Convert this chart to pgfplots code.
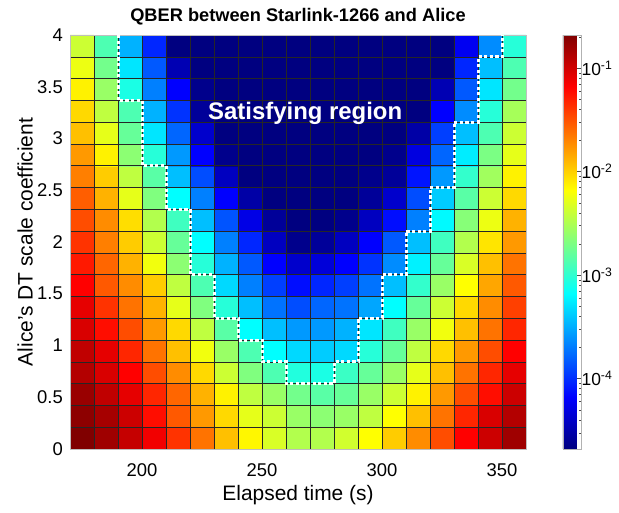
\documentclass[border=0pt]{standalone}
\usepackage{fontspec}
\setmainfont{Liberation Sans}
\usepackage{pgfplots}
\usepackage{pgfplotstable}
\pgfplotsset{compat=1.18}

% QBER, cell centres (x = elapsed time, y = DT scale)
\pgfplotstableread{
x y q
175 0.1053 2.09e-1
185 0.1053 1.58e-1
195 0.1053 1.12e-1
205 0.1053 7.41e-2
215 0.1053 4.17e-2
225 0.1053 2.34e-2
235 0.1053 1.17e-2
245 0.1053 7.08e-3
255 0.1053 4.68e-3
265 0.1053 3.31e-3
275 0.1053 3.31e-3
285 0.1053 4.37e-3
295 0.1053 6.61e-3
305 0.1053 1.05e-2
315 0.1053 1.86e-2
325 0.1053 3.31e-2
335 0.1053 6.61e-2
345 0.1053 1.05e-1
355 0.1053 1.58e-1
175 0.3158 1.86e-1
185 0.3158 1.48e-1
195 0.3158 1.05e-1
205 0.3158 5.89e-2
215 0.3158 2.95e-2
225 0.3158 1.66e-2
235 0.3158 9.33e-3
245 0.3158 5.25e-3
255 0.3158 4.17e-3
265 0.3158 2.63e-3
275 0.3158 2.34e-3
285 0.3158 2.63e-3
295 0.3158 3.72e-3
305 0.3158 6.61e-3
315 0.3158 1.17e-2
325 0.3158 2.34e-2
335 0.3158 4.68e-2
345 0.3158 9.33e-2
355 0.3158 1.32e-1
175 0.5263 1.66e-1
185 0.5263 1.17e-1
195 0.5263 8.32e-2
205 0.5263 4.68e-2
215 0.5263 2.63e-2
225 0.5263 1.32e-2
235 0.5263 7.41e-3
245 0.5263 3.72e-3
255 0.5263 2.63e-3
265 0.5263 1.86e-3
275 0.5263 1.48e-3
285 0.5263 1.66e-3
295 0.5263 2.63e-3
305 0.5263 4.17e-3
315 0.5263 7.41e-3
325 0.5263 1.66e-2
335 0.5263 3.31e-2
345 0.5263 5.89e-2
355 0.5263 1.05e-1
175 0.7368 1.32e-1
185 0.7368 9.33e-2
195 0.7368 6.61e-2
205 0.7368 3.31e-2
215 0.7368 1.86e-2
225 0.7368 9.33e-3
235 0.7368 4.17e-3
245 0.7368 2.09e-3
255 0.7368 1.32e-3
265 0.7368 8.91e-4
275 0.7368 8.32e-4
285 0.7368 1.12e-3
295 0.7368 1.66e-3
305 0.7368 2.63e-3
315 0.7368 5.25e-3
325 0.7368 1.17e-2
335 0.7368 2.34e-2
345 0.7368 4.68e-2
355 0.7368 8.32e-2
175 0.9474 1.17e-1
185 0.9474 8.32e-2
195 0.9474 4.68e-2
205 0.9474 2.34e-2
215 0.9474 1.17e-2
225 0.9474 5.89e-3
235 0.9474 2.63e-3
245 0.9474 1.32e-3
255 0.9474 6.61e-4
265 0.9474 4.68e-4
275 0.9474 4.17e-4
285 0.9474 4.68e-4
295 0.9474 9.33e-4
305 0.9474 1.66e-3
315 0.9474 3.72e-3
325 0.9474 9.33e-3
335 0.9474 1.66e-2
345 0.9474 3.31e-2
355 0.9474 6.61e-2
175 1.1579 9.33e-2
185 1.1579 5.89e-2
195 1.1579 3.31e-2
205 1.1579 1.66e-2
215 1.1579 9.33e-3
225 1.1579 3.72e-3
235 1.1579 1.48e-3
245 1.1579 6.61e-4
255 1.1579 3.72e-4
265 1.1579 2.63e-4
275 1.1579 2.63e-4
285 1.1579 3.31e-4
295 1.1579 5.25e-4
305 1.1579 1.17e-3
315 1.1579 2.63e-3
325 1.1579 5.89e-3
335 1.1579 1.17e-2
345 1.1579 2.34e-2
355 1.1579 4.68e-2
175 1.3684 8.32e-2
185 1.3684 4.17e-2
195 1.3684 2.34e-2
205 1.3684 1.32e-2
215 1.3684 5.25e-3
225 1.3684 2.09e-3
235 1.3684 9.33e-4
245 1.3684 3.72e-4
255 1.3684 1.86e-4
265 1.3684 1.32e-4
275 1.3684 1.66e-4
285 1.3684 1.86e-4
295 1.3684 2.95e-4
305 1.3684 6.61e-4
315 1.3684 1.66e-3
325 1.3684 4.17e-3
335 1.3684 9.33e-3
345 1.3684 1.86e-2
355 1.3684 3.72e-2
175 1.5789 6.61e-2
185 1.5789 2.95e-2
195 1.5789 1.86e-2
205 1.5789 1.05e-2
215 1.5789 3.72e-3
225 1.5789 1.32e-3
235 1.5789 4.68e-4
245 1.5789 2.09e-4
255 1.5789 1.17e-4
265 1.5789 7.41e-5
275 1.5789 9.33e-5
285 1.5789 1.17e-4
295 1.5789 1.86e-4
305 1.5789 3.72e-4
315 1.5789 1.05e-3
325 1.5789 2.63e-3
335 1.5789 6.61e-3
345 1.5789 1.48e-2
355 1.5789 2.95e-2
175 1.7895 5.25e-2
185 1.7895 2.63e-2
195 1.7895 1.32e-2
205 1.7895 5.89e-3
215 1.7895 2.34e-3
225 1.7895 9.33e-4
235 1.7895 3.31e-4
245 1.7895 1.48e-4
255 1.7895 6.61e-5
265 1.7895 4.17e-5
275 1.7895 4.68e-5
285 1.7895 6.61e-5
295 1.7895 1.05e-4
305 1.7895 2.34e-4
315 1.7895 5.89e-4
325 1.7895 1.66e-3
335 1.7895 4.68e-3
345 1.7895 1.17e-2
355 1.7895 2.34e-2
175 2.0000 4.17e-2
185 2.0000 2.09e-2
195 2.0000 1.05e-2
205 2.0000 4.17e-3
215 2.0000 1.66e-3
225 2.0000 6.61e-4
235 2.0000 2.09e-4
245 2.0000 9.33e-5
255 2.0000 3.72e-5
265 2.0000 2.34e-5
275 2.0000 2.63e-5
285 2.0000 3.72e-5
295 2.0000 6.61e-5
305 2.0000 1.48e-4
315 2.0000 3.72e-4
325 2.0000 1.17e-3
335 2.0000 3.31e-3
345 2.0000 8.32e-3
355 2.0000 1.66e-2
175 2.2105 3.31e-2
185 2.2105 1.86e-2
195 2.2105 8.91e-3
205 2.2105 3.31e-3
215 2.2105 1.17e-3
225 2.2105 3.72e-4
235 2.2105 1.41e-4
245 2.2105 5.25e-5
255 2.2105 2.63e-5
265 2.2105 2.09e-5
275 2.2105 2.09e-5
285 2.2105 2.34e-5
295 2.2105 3.72e-5
305 2.2105 7.41e-5
315 2.2105 2.09e-4
325 2.2105 6.31e-4
335 2.2105 2.24e-3
345 2.2105 5.62e-3
355 2.2105 1.32e-2
175 2.4211 2.82e-2
185 2.4211 1.32e-2
195 2.4211 5.25e-3
205 2.4211 2.09e-3
215 2.4211 6.61e-4
225 2.4211 2.09e-4
235 2.4211 6.61e-5
245 2.4211 2.95e-5
255 2.4211 2.09e-5
265 2.4211 2.09e-5
275 2.4211 2.09e-5
285 2.4211 2.09e-5
295 2.4211 2.63e-5
305 2.4211 4.17e-5
315 2.4211 1.32e-4
325 2.4211 4.17e-4
335 2.4211 1.48e-3
345 2.4211 4.17e-3
355 2.4211 9.33e-3
175 2.6316 2.09e-2
185 2.6316 1.05e-2
195 2.6316 3.72e-3
205 2.6316 1.48e-3
215 2.6316 3.72e-4
225 2.6316 1.32e-4
235 2.6316 3.72e-5
245 2.6316 2.09e-5
255 2.6316 2.09e-5
265 2.6316 2.09e-5
275 2.6316 2.09e-5
285 2.6316 2.09e-5
295 2.6316 2.34e-5
305 2.6316 2.63e-5
315 2.6316 7.94e-5
325 2.6316 2.63e-4
335 2.6316 1.05e-3
345 2.6316 2.82e-3
355 2.6316 7.41e-3
175 2.8421 1.66e-2
185 2.8421 7.41e-3
195 2.8421 2.34e-3
205 2.8421 9.33e-4
215 2.8421 2.63e-4
225 2.8421 6.61e-5
235 2.8421 2.34e-5
245 2.8421 2.09e-5
255 2.8421 2.09e-5
265 2.8421 2.09e-5
275 2.8421 2.09e-5
285 2.8421 2.09e-5
295 2.8421 2.09e-5
305 2.8421 2.34e-5
315 2.8421 5.01e-5
325 2.8421 1.66e-4
335 2.8421 5.62e-4
345 2.8421 2.00e-3
355 2.8421 5.25e-3
175 3.0526 1.17e-2
185 3.0526 5.25e-3
195 3.0526 1.66e-3
205 3.0526 5.25e-4
215 3.0526 1.66e-4
225 3.0526 4.17e-5
235 3.0526 2.09e-5
245 3.0526 2.09e-5
255 3.0526 2.09e-5
265 3.0526 2.09e-5
275 3.0526 2.09e-5
285 3.0526 2.09e-5
295 3.0526 2.09e-5
305 3.0526 2.09e-5
315 3.0526 2.95e-5
325 3.0526 1.17e-4
335 3.0526 3.72e-4
345 3.0526 1.32e-3
355 3.0526 4.17e-3
175 3.2632 9.33e-3
185 3.2632 3.72e-3
195 3.2632 1.32e-3
205 3.2632 3.31e-4
215 3.2632 1.05e-4
225 3.2632 2.63e-5
235 3.2632 2.09e-5
245 3.2632 2.09e-5
255 3.2632 2.09e-5
265 3.2632 2.09e-5
275 3.2632 2.09e-5
285 3.2632 2.09e-5
295 3.2632 2.09e-5
305 3.2632 2.09e-5
315 3.2632 2.09e-5
325 3.2632 6.61e-5
335 3.2632 2.34e-4
345 3.2632 9.33e-4
355 3.2632 2.95e-3
175 3.4737 7.41e-3
185 3.4737 2.63e-3
195 3.4737 8.32e-4
205 3.4737 2.09e-4
215 3.4737 6.61e-5
225 3.4737 2.34e-5
235 3.4737 2.09e-5
245 3.4737 2.09e-5
255 3.4737 2.09e-5
265 3.4737 2.09e-5
275 3.4737 2.09e-5
285 3.4737 2.09e-5
295 3.4737 2.09e-5
305 3.4737 2.09e-5
315 3.4737 2.09e-5
325 3.4737 3.31e-5
335 3.4737 1.48e-4
345 3.4737 5.25e-4
355 3.4737 1.86e-3
175 3.6842 5.62e-3
185 3.6842 1.86e-3
195 3.6842 5.25e-4
205 3.6842 1.48e-4
215 3.6842 3.31e-5
225 3.6842 2.09e-5
235 3.6842 2.09e-5
245 3.6842 2.09e-5
255 3.6842 2.09e-5
265 3.6842 2.09e-5
275 3.6842 2.09e-5
285 3.6842 2.09e-5
295 3.6842 2.09e-5
305 3.6842 2.09e-5
315 3.6842 2.09e-5
325 3.6842 2.09e-5
335 3.6842 9.33e-5
345 3.6842 3.72e-4
355 3.6842 1.32e-3
175 3.8947 4.17e-3
185 3.8947 1.32e-3
195 3.8947 3.31e-4
205 3.8947 9.33e-5
215 3.8947 2.09e-5
225 3.8947 2.09e-5
235 3.8947 2.09e-5
245 3.8947 2.09e-5
255 3.8947 2.09e-5
265 3.8947 2.09e-5
275 3.8947 2.09e-5
285 3.8947 2.09e-5
295 3.8947 2.09e-5
305 3.8947 2.09e-5
315 3.8947 2.09e-5
325 3.8947 2.09e-5
335 3.8947 5.89e-5
345 3.8947 2.34e-4
355 3.8947 9.33e-4
}\qbertab

\begin{document}
\begin{tikzpicture}
\begin{axis}[name=main, scale only axis, width=456bp, height=414bp,
  set layers=axis on top,
  xmin=170, xmax=360, ymin=0, ymax=4,
  xtick={200,250,300,350}, ytick={0,0.5,...,4},
  minor xtick={170,180,...,360},
  minor ytick={0.2105,0.4211,0.6316,0.8421,1.0526,1.2632,1.4737,1.6842,1.8947,2.1053,2.3158,2.5263,2.7368,2.9474,3.1579,3.3684,3.5789,3.7895},
  xminorgrids, yminorgrids, xmajorgrids,
  minor grid style={black!85, line width=0.5bp},
  major grid style={black!85, line width=0.5bp},
  major tick length=0pt, minor tick length=0pt,
  axis line style={gray!50, line width=0.6bp},
  /pgf/number format/assume math mode=true,
  ticklabel style={font=\fontsize{18.5}{21}\selectfont, inner sep=0pt},
  xticklabel style={anchor=base, yshift=-27bp},
  yticklabel style={anchor=east, xshift=-7bp},
  xlabel={Elapsed time (s)}, ylabel={Alice's DT scale coefficient},
  label style={font=\fontsize{21}{24}\selectfont},
  xlabel style={at={(axis description cs:0.5,-0.1256)}, anchor=base},
  ylabel style={at={(axis description cs:-0.082,0.5)}, anchor=base},
  colormap/jet,
  point meta min=-4.68, point meta max=-0.68,
  colorbar,
  colorbar shift/.style={xshift=36.5bp},
  colorbar style={
    scale only axis, width=18.6bp, height=414bp,
    ytick={-4,-3,-2,-1},
    yticklabels={10\textsuperscript{-4},10\textsuperscript{-3},10\textsuperscript{-2},10\textsuperscript{-1}},
    minor ytick={-4.523,-4.398,-4.301,-4.222,-4.155,-4.097,-4.046,-3.699,-3.523,-3.398,-3.301,-3.222,-3.155,-3.097,-3.046,-2.699,-2.523,-2.398,-2.301,-2.222,-2.155,-2.097,-2.046,-1.699,-1.523,-1.398,-1.301,-1.222,-1.155,-1.097,-1.046,-0.699},
    ytick pos=right, yticklabel pos=right,
    tick align=inside,
    major tick length=4.5bp, minor tick length=2.5bp,
    tick style={black!70, line width=0.5bp},
    axis line style={gray!60, line width=0.5bp},
    yticklabel style={font=\fontsize{17.5}{20}\selectfont, inner sep=0pt, anchor=west},
  },
]
\addplot[matrix plot*, mesh/cols=19, mesh/ordering=x varies, point meta={log10(\thisrow{q})}]
  table[x=x, y=y] {\qbertab};

\addplot[white, line width=3bp, dash pattern=on 3.2bp off 2.4bp, on layer=axis foreground] coordinates {
  (190,4) (190,3.3684) (200,3.3684) (200,2.7368) (210,2.7368) (210,2.3158)
  (220,2.3158) (220,1.6842) (230,1.6842) (230,1.2632) (240,1.2632) (240,1.0526)
  (250,1.0526) (250,0.8421) (260,0.8421) (260,0.6316) (280,0.6316) (280,0.8421)
  (290,0.8421) (290,1.2632) (300,1.2632) (300,1.6842) (310,1.6842) (310,2.1053)
  (320,2.1053) (320,2.5263) (330,2.5263) (330,3.1579) (340,3.1579) (340,3.7895)
  (350,3.7895) (350,4)};

\begin{pgfonlayer}{axis foreground}
\node[text=white, font=\bfseries\fontsize{24}{26}\selectfont, anchor=base] at (axis cs:268,3.185) {Satisfying region};
\end{pgfonlayer}
\end{axis}
\node[anchor=base, inner sep=0pt, font=\bfseries\fontsize{18.3}{21}\selectfont] at ([yshift=13.5bp]main.north) {QBER between Starlink-1266 and Alice};
\pgfresetboundingbox
\path[use as bounding box] (main.south west) ++(-70bp,-64bp) rectangle ++(619bp,513bp);
\end{tikzpicture}
\end{document}
